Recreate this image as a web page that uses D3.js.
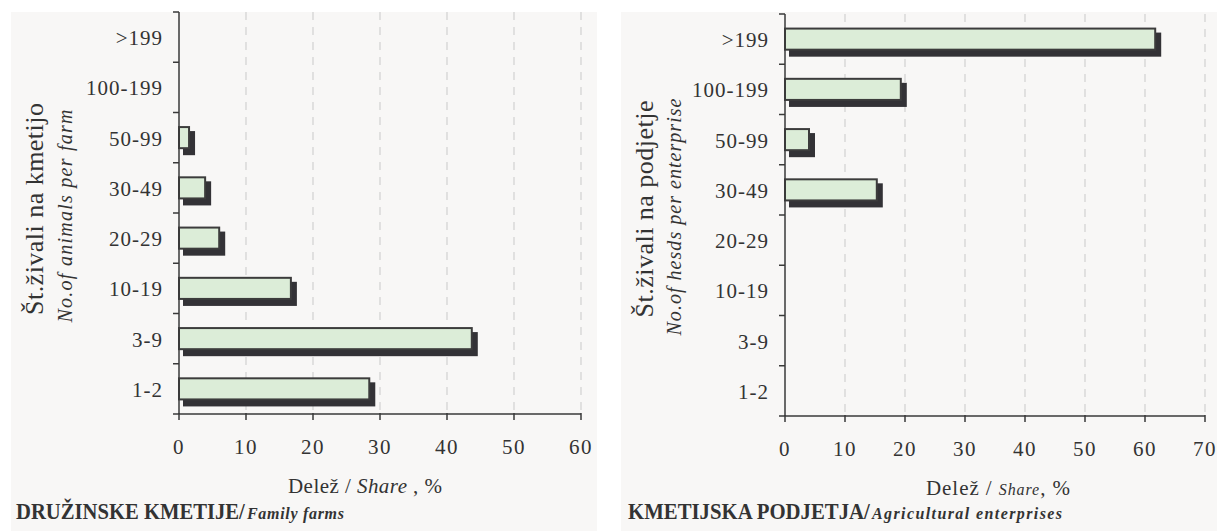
<!DOCTYPE html>
<html>
<head>
<meta charset="utf-8">
<script src="https://cdn.jsdelivr.net/npm/d3@7"></script>
<style>
  html, body { margin: 0; padding: 0; background: #ffffff; }
  svg { display: block; font-family: "Liberation Serif", "Times New Roman", Times, serif; }
</style>
</head>
<body>
<svg id="chart" width="1217" height="531"></svg>
<script>
// categories, bottom to top
var categories = ['1-2', '3-9', '10-19', '20-29', '30-49', '50-99', '100-199', '>199'];

// share of animals, %
var familyShare = [28.4, 43.7, 16.7, 6.0, 3.9, 1.5, 0, 0];
var enterpriseShare = [0, 0, 0, 0, 15.3, 4.0, 19.3, 61.7];

var familyTicks = [0, 10, 20, 30, 40, 50, 60];
var enterpriseTicks = [0, 10, 20, 30, 40, 50, 60, 70];

var svg = d3.select('#chart');

function drawPanel(o) {
  var g = svg.append('g');

  g.append('rect')
    .attr('x', o.bgX).attr('y', 12)
    .attr('width', o.bgW).attr('height', 519)
    .attr('fill', '#f8f7f6');

  var x = d3.scaleLinear()
    .domain([0, d3.max(o.ticks)])
    .range([o.left, o.right]);

  var y = d3.scaleBand()
    .domain(categories.slice().reverse())
    .range([o.top, o.bottom]);

  // dashed grid
  g.selectAll('line.grid')
    .data(o.ticks.slice(1))
    .enter().append('line')
      .attr('class', 'grid')
      .attr('x1', x).attr('x2', x)
      .attr('y1', o.top).attr('y2', o.bottom)
      .style('stroke', '#c9c9c9')
      .style('stroke-width', 1)
      .style('stroke-dasharray', '8,7');

  var rows = categories.map(function(c, i) { return { cat: c, v: o.values[i] }; })
    .filter(function(d) { return d.v > 0; });

  var bh = y.bandwidth() * 0.42;

  // shadow
  g.selectAll('rect.shadow')
    .data(rows)
    .enter().append('rect')
      .attr('class', 'shadow')
      .attr('x', x(0) + 4)
      .attr('y', function(d) { return y(d.cat) + (y.bandwidth() - bh) / 2 + 4; })
      .attr('width', function(d) { return x(d.v) - x(0) + 2; })
      .attr('height', bh + 3)
      .attr('fill', '#333236');

  g.selectAll('rect.bar')
    .data(rows)
    .enter().append('rect')
      .attr('class', 'bar')
      .attr('x', x(0))
      .attr('y', function(d) { return y(d.cat) + (y.bandwidth() - bh) / 2; })
      .attr('width', function(d) { return x(d.v) - x(0); })
      .attr('height', bh)
      .attr('fill', '#dcedd8')
      .attr('stroke', '#3c3c3c')
      .attr('stroke-width', 2);

  // y axis, ticks sit between categories
  var bounds = d3.range(categories.length + 1).map(function(i) { return o.top + i * y.step(); });
  g.append('line')
    .attr('x1', x(0)).attr('x2', x(0))
    .attr('y1', o.top).attr('y2', o.bottom)
    .style('stroke', '#3a3a3a').style('stroke-width', 1.5);
  g.selectAll('line.ytick')
    .data(bounds)
    .enter().append('line')
      .attr('class', 'ytick')
      .attr('x1', x(0) - 6).attr('x2', x(0))
      .attr('y1', function(d) { return d; }).attr('y2', function(d) { return d; })
      .style('stroke', '#3a3a3a').style('stroke-width', 1.5);

  g.selectAll('text.ylab')
    .data(categories)
    .enter().append('text')
      .attr('class', 'ylab')
      .attr('x', x(0) - 16)
      .attr('y', function(d) { return y(d) + y.bandwidth() / 2 + 8; })
      .attr('text-anchor', 'end')
      .style('font-size', '21px')
      .style('letter-spacing', '1px')
      .attr('fill', '#333')
      .text(function(d) { return d; });

  // x axis
  g.append('line')
    .attr('x1', x(0)).attr('x2', o.right)
    .attr('y1', o.bottom).attr('y2', o.bottom)
    .style('stroke', '#3a3a3a').style('stroke-width', 1.5);
  g.selectAll('line.xtick')
    .data(o.ticks)
    .enter().append('line')
      .attr('class', 'xtick')
      .attr('x1', x).attr('x2', x)
      .attr('y1', o.bottom - 1).attr('y2', o.bottom + 6)
      .style('stroke', '#3a3a3a').style('stroke-width', 1.5);
  g.selectAll('text.xlab')
    .data(o.ticks)
    .enter().append('text')
      .attr('class', 'xlab')
      .attr('x', x)
      .attr('y', o.bottom + 40)
      .attr('text-anchor', 'middle')
      .style('font-size', '21px')
      .style('letter-spacing', '1.5px')
      .attr('fill', '#333')
      .text(function(d) { return d; });

  // axis titles
  var xt = g.append('text')
    .attr('x', o.xtX).attr('y', o.bottom + 79)
    .attr('textLength', o.xtLen).attr('lengthAdjust', 'spacing')
    .style('font-size', '21px')
    .attr('fill', '#333');
  xt.append('tspan').text('Delež / ');
  xt.append('tspan').style('font-style', 'italic').style('font-size', o.shareSize).text('Share');
  xt.append('tspan').text(o.shareTail);

  g.append('text')
    .attr('transform', 'translate(' + o.yt1X + ',' + o.yt1Y + ') rotate(-90)')
    .attr('text-anchor', 'middle')
    .attr('textLength', o.yt1Len).attr('lengthAdjust', 'spacing')
    .style('font-size', '26px')
    .attr('fill', '#333')
    .text(o.yTitle);
  g.append('text')
    .attr('transform', 'translate(' + o.yt2X + ',' + o.yt2Y + ') rotate(-90)')
    .attr('text-anchor', 'middle')
    .attr('textLength', o.yt2Len).attr('lengthAdjust', 'spacing')
    .style('font-size', '20px')
    .style('font-style', 'italic')
    .attr('fill', '#333')
    .text(o.ySub);

  // panel caption, squeezed horizontally like the original
  var cap = g.append('text')
    .style('font-size', '24px')
    .style('font-weight', 'bold')
    .attr('fill', '#333')
    .text(o.caption);
  var sx = o.capLen / cap.node().getComputedTextLength();
  cap.attr('transform', 'translate(' + o.capX + ',519) scale(' + sx + ',1)');

  g.append('text')
    .attr('x', o.capX + o.capLen + 2).attr('y', 519)
    .attr('textLength', o.subLen).attr('lengthAdjust', 'spacing')
    .style('font-size', '16px')
    .style('font-weight', 'bold')
    .style('font-style', 'italic')
    .attr('fill', '#333')
    .text(o.captionSub);
}

drawPanel({
  values: familyShare, ticks: familyTicks,
  bgX: 11, bgW: 586,
  left: 179, right: 581, top: 12, bottom: 414,
  xtX: 288, xtLen: 154, shareSize: '21px', shareTail: ' , %',
  yTitle: 'Št.živali na kmetijo', yt1X: 43, yt1Y: 209, yt1Len: 212,
  ySub: 'No.of animals per farm', yt2X: 72, yt2Y: 216, yt2Len: 213,
  caption: 'DRUŽINSKE KMETIJE/', capX: 16, capLen: 229,
  captionSub: 'Family farms', subLen: 97
});

drawPanel({
  values: enterpriseShare, ticks: enterpriseTicks,
  bgX: 621, bgW: 596,
  left: 785, right: 1205, top: 14, bottom: 416,
  xtX: 926, xtLen: 144, shareSize: '16px', shareTail: ', %',
  yTitle: 'Št.živali na podjetje', yt1X: 653, yt1Y: 209, yt1Len: 217,
  ySub: 'No.of hesds per enterprise', yt2X: 681, yt2Y: 217, yt2Len: 237,
  caption: 'KMETIJSKA PODJETJA/', capX: 628, capLen: 242,
  captionSub: 'Agricultural enterprises', subLen: 190
});
</script>
</body>
</html>
